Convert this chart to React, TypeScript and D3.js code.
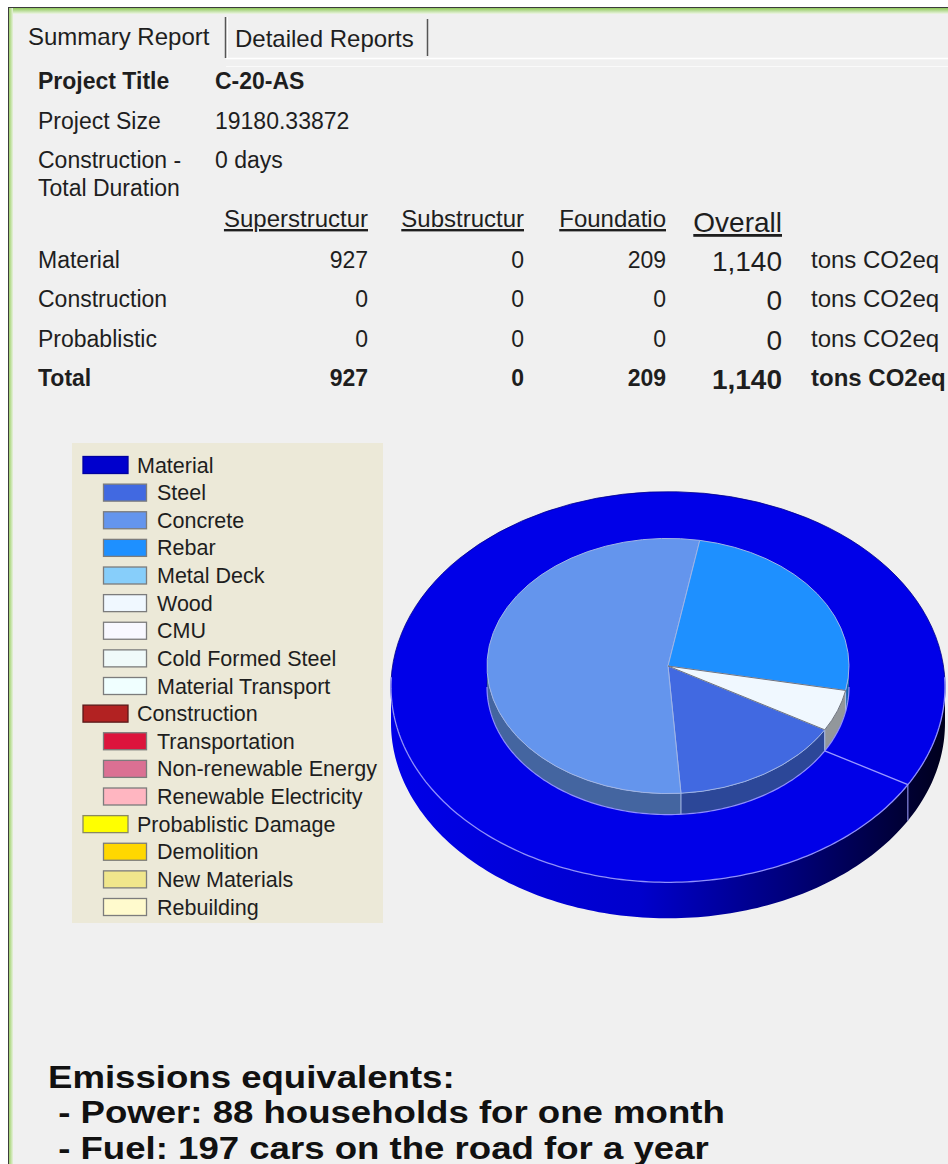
import React, { useEffect } from "react";
import * as d3 from "d3";

// ---- data ----
const infoLabels = [["Project Title"], ["Project Size"], ["Construction -", "Total Duration"]];
const infoValues = ["C-20-AS", "19180.33872", "0 days"];

const columnHeaders = ["Superstructur", "Substructur", "Foundatio", "Overall"];
const rowLabels = ["Material", "Construction", "Probablistic", "Total"];
const superstructurValues = [927, 0, 0, 927];
const substructurValues = [0, 0, 0, 0];
const foundationValues = [209, 0, 0, 209];
const overallValues = [1140, 0, 0, 1140];
const unitLabel = "tons CO2eq";

const groupNames = ["Material", "Construction", "Probablistic Damage"];
const groupColors = ["#0000cd", "#b22222", "#ffff00"];
const groupTotals = [1140, 0, 0];

const materialItems = ["Steel", "Concrete", "Rebar", "Metal Deck", "Wood", "CMU", "Cold Formed Steel", "Material Transport"];
const materialColors = ["#4169e1", "#6495ed", "#1e90ff", "#87cefa", "#f0f8ff", "#f8f8ff", "#f0fafa", "#f0ffff"];
const materialTons = [177, 615, 288, 0, 60, 0, 0, 0];

const constructionItems = ["Transportation", "Non-renewable Energy", "Renewable Electricity"];
const constructionColors = ["#dc143c", "#db7093", "#ffb6c1"];

const probablisticItems = ["Demolition", "New Materials", "Rebuilding"];
const probablisticColors = ["#ffd700", "#f0e68c", "#fffacd"];

const emissionLines = [
  "Emissions equivalents:",
  " - Power: 88 households for one month",
  " - Fuel: 197 cars on the road for a year",
];

const FONT = "'Liberation Sans', Arial, Helvetica, sans-serif";
const fmt = d3.format(",");

// pie geometry
const cx = 668;
const ringY = 687;
const outerR = 277;
const innerR = 181;
const tilt = 0.705;
const ringDepth = 36;
const pieDepth = 21;
const pieY = ringY - pieDepth;
const startAngle = (120 * Math.PI) / 180;

const proj = (y0: number, r: number, a: number): [number, number] => [
  cx + r * Math.sin(a),
  y0 - r * tilt * Math.cos(a),
];

// side wall between angles a0..a1 (front side only)
const wallPath = (y0: number, r: number, depth: number, a0: number, a1: number) => {
  const n = Math.max(2, Math.ceil((a1 - a0) / 0.02));
  const top = d3.range(n + 1).map((i) => proj(y0, r, a0 + ((a1 - a0) * i) / n));
  const bottom = top.map(([x, y]) => [x, y + depth] as [number, number]).reverse();
  return d3.line()([...top, ...bottom]) + "Z";
};

const edgePath = (y0: number, r: number, a0: number, a1: number) => {
  const n = Math.max(2, Math.ceil((a1 - a0) / 0.02));
  return d3.line()(d3.range(n + 1).map((i) => proj(y0, r, a0 + ((a1 - a0) * i) / n))) || "";
};

// visible part of a slice's wall (front half of the ellipse)
const frontParts = (a0: number, a1: number) => {
  const parts: [number, number][] = [];
  [0, 2 * Math.PI].forEach((off) => {
    const lo = Math.max(a0, Math.PI / 2 + off);
    const hi = Math.min(a1, (3 * Math.PI) / 2 + off);
    if (hi > lo) parts.push([lo, hi]);
  });
  return parts;
};

const isFront = (a: number) => {
  const m = ((a % (2 * Math.PI)) + 2 * Math.PI) % (2 * Math.PI);
  return m > Math.PI / 2 && m < (3 * Math.PI) / 2;
};

const PieChart3D = () => {
  const pie = d3.pie<number>().sort(null).startAngle(startAngle).endAngle(startAngle + 2 * Math.PI);
  const ringArcs = pie(groupTotals).map((d, i) => ({ ...d, color: groupColors[i] })).filter((d) => d.value > 0);
  const innerArcs = pie(materialTons).map((d, i) => ({ ...d, color: materialColors[i] })).filter((d) => d.value > 0);

  const ringArc = d3.arc<any>().innerRadius(innerR).outerRadius(outerR);
  const sliceArc = d3.arc<any>().innerRadius(0).outerRadius(innerR);

  return (
    <g>
      <defs>
        <linearGradient id="ringWall" x1={cx - outerR} x2={cx + outerR} y1={0} y2={0} gradientUnits="userSpaceOnUse">
          <stop offset="0%" stopColor="#0000e8" />
          <stop offset="45%" stopColor="#0000cc" />
          <stop offset="72%" stopColor="#00007a" />
          <stop offset="100%" stopColor="#00001c" />
        </linearGradient>
      </defs>

      {/* outer ring (category level) */}
      {ringArcs.map((d, i) =>
        frontParts(d.startAngle, d.endAngle).map(([a0, a1], j) => (
          <path key={`rw${i}-${j}`} d={wallPath(ringY, outerR, ringDepth, a0, a1)} fill="url(#ringWall)" />
        ))
      )}
      {ringArcs.map((d, i) => (
        <path
          key={`rt${i}`}
          d={ringArc(d) || ""}
          transform={`translate(${cx},${ringY}) scale(1,${tilt})`}
          fill={d3.color(d.color)!.brighter(0.35).toString()}
          stroke="#00008a"
          strokeWidth={0.8}
          vectorEffect="non-scaling-stroke"
        />
      ))}
      <path d={edgePath(ringY, outerR, Math.PI / 2 - 0.05, (3 * Math.PI) / 2 + 0.05)} fill="none" stroke="#8f8fff" strokeWidth={1.3} />
      {ringArcs.map((d, i) => {
        const [x0, y0] = proj(ringY, innerR, d.startAngle);
        const [x1, y1] = proj(ringY, outerR, d.startAngle);
        return (
          <g key={`rb${i}`}>
            <line x1={x0} y1={y0} x2={x1} y2={y1} stroke="#9a9aff" strokeWidth={1.3} />
            {isFront(d.startAngle) && (
              <line x1={x1} y1={y1} x2={x1} y2={y1 + ringDepth} stroke="#9a9aff" strokeWidth={1} />
            )}
          </g>
        );
      })}

      {/* inner pie (material breakdown) */}
      {innerArcs.map((d, i) =>
        frontParts(d.startAngle, d.endAngle).map(([a0, a1], j) => (
          <path
            key={`pw${i}-${j}`}
            d={wallPath(pieY, innerR, pieDepth, a0, a1)}
            fill={d3.color(d.color)!.darker(d.color === "#f0f8ff" ? 1.4 : 1.1).toString()}
          />
        ))
      )}
      {innerArcs.map((d, i) =>
        isFront(d.startAngle) ? (
          <line
            key={`pv${i}`}
            x1={proj(pieY, innerR, d.startAngle)[0]}
            y1={proj(pieY, innerR, d.startAngle)[1]}
            x2={proj(pieY, innerR, d.startAngle)[0]}
            y2={proj(pieY, innerR, d.startAngle)[1] + pieDepth}
            stroke="#a9bde8"
            strokeWidth={1}
          />
        ) : null
      )}
      <path d={edgePath(ringY, innerR, Math.PI / 2, (3 * Math.PI) / 2)} fill="none" stroke="#8f8fff" strokeWidth={1.2} />
      {innerArcs.map((d, i) => (
        <path
          key={`pt${i}`}
          d={sliceArc(d) || ""}
          transform={`translate(${cx},${pieY}) scale(1,${tilt})`}
          fill={d.color}
          stroke={d.color === "#f0f8ff" ? "#6f7480" : "#9fb4e6"}
          strokeWidth={1}
          vectorEffect="non-scaling-stroke"
        />
      ))}
    </g>
  );
};

const Legend = () => {
  const rows: { name: string; color: string; parent: boolean }[] = [];
  const children = [materialItems, constructionItems, probablisticItems];
  const childColors = [materialColors, constructionColors, probablisticColors];
  groupNames.forEach((g, gi) => {
    rows.push({ name: g, color: groupColors[gi], parent: true });
    children[gi].forEach((c, ci) => rows.push({ name: c, color: childColors[gi][ci], parent: false }));
  });
  const y = d3.scaleLinear().domain([0, rows.length - 1]).range([465, 907]);
  return (
    <g>
      <rect x={72} y={443} width={311} height={480} fill="#ece9d8" />
      {rows.map((r, i) => (
        <g key={r.name} transform={`translate(0,${y(i)})`}>
          <rect
            x={r.parent ? 83 : 103.5}
            y={-8.5}
            width={r.parent ? 45 : 43}
            height={17}
            fill={r.color}
            stroke={r.parent ? (r.name === "Material" ? "#0000a0" : r.name === "Construction" ? "#5a1a1a" : "#8a8a60") : "#7c7c7c"}
            strokeWidth={1.3}
          />
          <text x={r.parent ? 137 : 157} y={7.5} fontSize={21.5} fill="#1e1e1e" fontFamily={FONT}>
            {r.name}
          </text>
        </g>
      ))}
    </g>
  );
};

const SummaryTable = () => {
  const rowY = d3.scaleLinear().domain([0, rowLabels.length - 1]).range([268, 386]);
  const colRight = [368, 524, 666, 782];
  const columns = [superstructurValues, substructurValues, foundationValues, overallValues];
  return (
    <g fontFamily={FONT} fill="#1e1e1e">
      {infoLabels.map((lines, i) => (
        <g key={i}>
          {lines.map((l, j) => (
            <text key={l} x={38} y={89 + i * 39.5 + j * 28} fontSize={23} fontWeight={i === 0 ? "bold" : "normal"}>
              {l}
            </text>
          ))}
          <text x={215} y={89 + i * 39.5} fontSize={23} fontWeight={i === 0 ? "bold" : "normal"}>
            {infoValues[i]}
          </text>
        </g>
      ))}
      {columnHeaders.map((h, i) => (
        <text
          key={h}
          x={colRight[i]}
          y={i === 3 ? 232 : 227}
          textAnchor="end"
          fontSize={i === 3 ? 28 : 24}
          style={{ textDecoration: "underline" }}
        >
          {h}
        </text>
      ))}
      {rowLabels.map((r, ri) => {
        const bold = ri === rowLabels.length - 1;
        return (
          <g key={r} fontWeight={bold ? "bold" : "normal"}>
            <text x={38} y={rowY(ri)} fontSize={23}>
              {r}
            </text>
            {columns.map((col, ci) => (
              <text key={ci} x={colRight[ci]} y={rowY(ri) + (ci === 3 ? 3 : 0)} textAnchor="end" fontSize={ci === 3 ? 28 : 23}>
                {fmt(col[ri])}
              </text>
            ))}
            <text x={811} y={rowY(ri)} fontSize={24}>
              {unitLabel}
            </text>
          </g>
        );
      })}
    </g>
  );
};

export default function App() {
  useEffect(() => {
    document.body.style.margin = "0";
  }, []);
  const W = 948;
  const H = 1164;
  return (
    <svg width={W} height={H} style={{ display: "block" }}>
      <defs>
        <linearGradient id="frameTop" x1={0} x2={0} y1={0} y2={1}>
          <stop offset="0%" stopColor="#8fc85a" />
          <stop offset="100%" stopColor="#eef6e6" />
        </linearGradient>
        <linearGradient id="frameLeft" x1={0} x2={1} y1={0} y2={0}>
          <stop offset="0%" stopColor="#9fd06c" />
          <stop offset="100%" stopColor="#e6f2da" />
        </linearGradient>
      </defs>
      <rect width={W} height={H} fill="#ffffff" />
      <rect x={8} y={7} width={W - 8} height={H - 7} fill="#f0f0f0" />
      <rect x={9} y={8} width={W - 9} height={6} fill="url(#frameTop)" />
      <rect x={9} y={8} width={4} height={H - 8} fill="url(#frameLeft)" />
      <line x1={8} y1={7.5} x2={W} y2={7.5} stroke="#3c3c3c" />
      <line x1={8.5} y1={7} x2={8.5} y2={H} stroke="#3c3c3c" />

      {/* tabs */}
      <line x1={226} y1={58.5} x2={W} y2={58.5} stroke="#ffffff" strokeWidth={1.5} />
      <line x1={226} y1={66.5} x2={W} y2={66.5} stroke="#fafafa" strokeWidth={1} />
      <line x1={225.5} y1={17} x2={225.5} y2={58} stroke="#555" strokeWidth={1.5} />
      <line x1={227.5} y1={17} x2={227.5} y2={58} stroke="#fff" strokeWidth={1} />
      <line x1={427.5} y1={19} x2={427.5} y2={56} stroke="#555" strokeWidth={1.5} />
      <text x={28} y={45} fontSize={24} fontFamily={FONT} fill="#1e1e1e">
        Summary Report
      </text>
      <text x={235} y={47} fontSize={24} fontFamily={FONT} fill="#1e1e1e">
        Detailed Reports
      </text>

      <SummaryTable />
      <Legend />
      <PieChart3D />

      <g transform="translate(48,0) scale(1.2,1)">
        {emissionLines.map((l, i) => (
          <text
            key={i}
            x={0}
            y={1088 + i * 35.5}
            fontSize={30.5}
            fontWeight="bold"
            fontFamily={FONT}
            fill="#111"
            style={{ whiteSpace: "pre" }}
          >
            {l}
          </text>
        ))}
      </g>
    </svg>
  );
}
